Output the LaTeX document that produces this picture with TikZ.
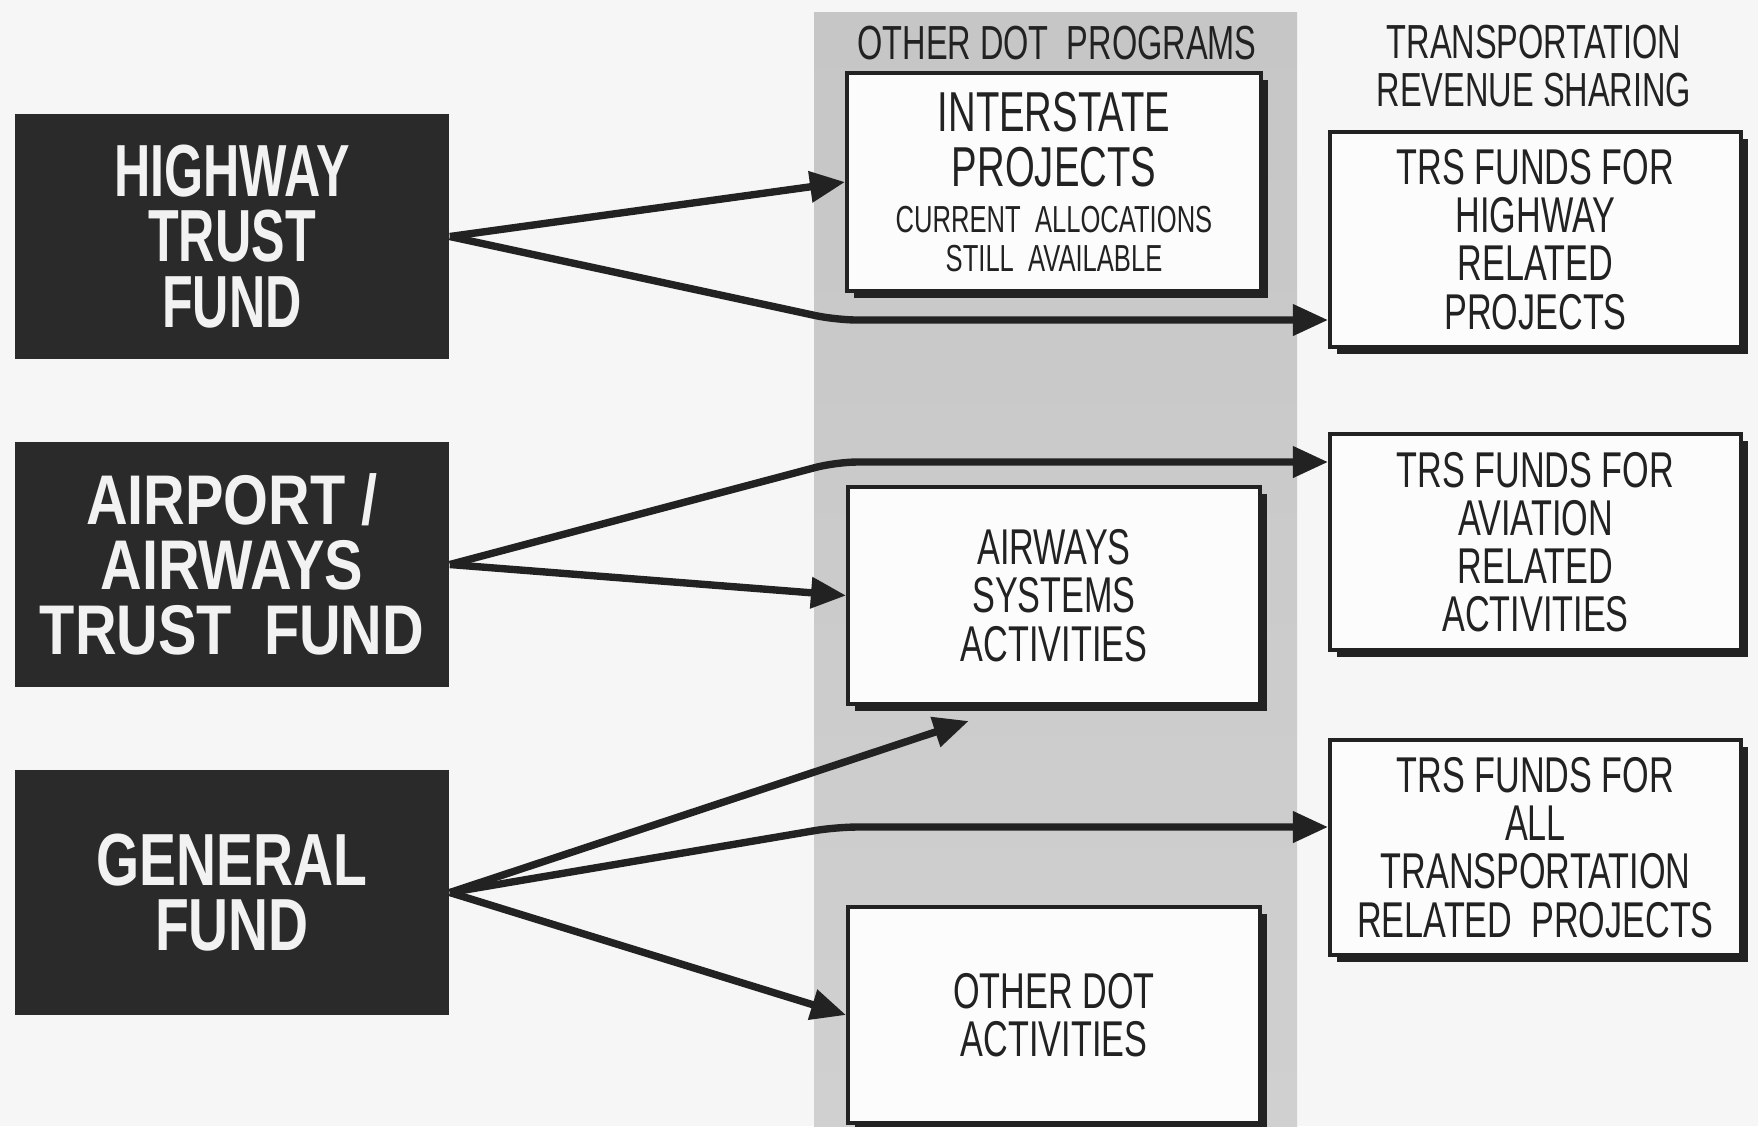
\documentclass[tikz,border=0pt]{standalone}
\usepackage{fontspec}
\setmainfont{Liberation Sans}
\newfontfamily\hwyfont[FakeStretch=0.68]{Liberation Sans}
\newfontfamily\airfont[FakeStretch=0.82]{Liberation Sans}
\newfontfamily\genfont[FakeStretch=0.75]{Liberation Sans}
\newfontfamily\lblfont[FakeStretch=0.68]{Liberation Sans}
\usetikzlibrary{arrows.meta,shadows,calc}
\definecolor{bg}{HTML}{F6F6F6}
\definecolor{ink}{HTML}{222222}
\definecolor{fundbg}{HTML}{2A2A2A}
\definecolor{fundtx}{HTML}{F2F2F2}
\definecolor{colA}{HTML}{C6C6C6}
\definecolor{colB}{HTML}{BABABA}
\definecolor{colC}{HTML}{D0D0D0}
\definecolor{boxfill}{HTML}{FCFCFC}
\tikzset{
  fundbox/.style={fill=fundbg, text=fundtx, inner sep=0pt, align=center,
    minimum width=4.34cm, minimum height=2.44cm},
  wbox/.style={fill=boxfill, draw=ink, line width=1pt, inner sep=0pt, align=center,
    text=ink, font=\lblfont\fontsize{14.3}{13.7}\selectfont,
    drop shadow={shadow xshift=1.9pt, shadow yshift=-1.9pt, opacity=1, fill=ink}},
  hdr/.style={text=ink, inner sep=0pt, align=center, font=\lblfont\fontsize{13.6}{13.4}\selectfont},
  conn/.style={draw=ink, line width=2.1pt, rounded corners=6pt,
    -{Triangle[length=10pt,width=8.5pt]}}
}
\newcommand\isbig[1]{{\fontsize{16}{15.4}\selectfont #1}}
\newcommand\issmall[1]{{\fontsize{10.7}{12}\selectfont #1}}
\begin{document}
\begin{tikzpicture}[x=0.01cm,y=-0.01cm]
\useasboundingbox (0,0) rectangle (1758,1126);
\fill[bg] (0,0) rectangle (1758,1126);
% gray column
\shade[top color=colA, middle color=colB, bottom color=colC] (814,12) rectangle (1297,1126);

% source funds
\node[fundbox, font=\hwyfont\bfseries\fontsize{21}{18.5}\selectfont] (hw) at (232,236.5) {HIGHWAY\\TRUST\\FUND};
\node[fundbox, font=\airfont\bfseries\fontsize{20}{18.5}\selectfont] (ap) at (232,564.5) {AIRPORT /\\AIRWAYS\\TRUST\ \ FUND};
\node[fundbox, font=\genfont\bfseries\fontsize{21}{18.7}\selectfont] (gf) at (232,892.5) {GENERAL\\FUND};

% headers
\node[hdr] (h1) at (1057,43) {OTHER DOT\ \ PROGRAMS};
\node[hdr] (h2) at (1534,66) {TRANSPORTATION\\REVENUE SHARING};

% middle column boxes
\node[wbox, minimum width=4.14cm, minimum height=2.18cm] (isp) at (1054,182)
  {\isbig{INTERSTATE}\\[1.7pt]\isbig{PROJECTS}\\[-0.6pt]\issmall{CURRENT\ \ ALLOCATIONS}\\[-2.6pt]\issmall{STILL\ \ AVAILABLE}};
\node[wbox, minimum width=4.12cm, minimum height=2.17cm] (aw) at (1054,595.5)
  {AIRWAYS\\SYSTEMS\\ACTIVITIES};
\node[wbox, minimum width=4.12cm, minimum height=2.16cm] (od) at (1054,1015)
  {OTHER DOT\\ACTIVITIES};

% right column boxes
\node[wbox, minimum width=4.11cm, minimum height=2.15cm] (trs1) at (1535.5,239.5)
  {TRS FUNDS FOR\\HIGHWAY\\RELATED\\PROJECTS};
\node[wbox, minimum width=4.11cm, minimum height=2.16cm] (trs2) at (1535.5,542)
  {TRS FUNDS FOR\\AVIATION\\RELATED\\ACTIVITIES};
\node[wbox, minimum width=4.11cm, minimum height=2.15cm] (trs3) at (1535.5,847.5)
  {TRS FUNDS FOR\\ALL\\TRANSPORTATION\\RELATED\ \ PROJECTS};

% bend points
\coordinate (b1) at (836,320);
\coordinate (b2) at (836,462);
\coordinate (b3) at (836,827);
\coordinate (awb) at ([yshift=-4.3pt]$(aw.south west)!0.295!(aw.south east)$);

% connectors
\draw[conn] (hw.east) -- (isp.west);
\draw[conn] (hw.east) -- (b1) -- (b1 -| trs1.west);
\draw[conn] (ap.east) -- (b2) -- (b2 -| trs2.west);
\draw[conn] (ap.east) -- (aw.west);
\draw[conn] (gf.east) -- (awb);
\draw[conn] (gf.east) -- (b3) -- (b3 -| trs3.west);
\draw[conn] (gf.east) -- (od.west);
\end{tikzpicture}
\end{document}
